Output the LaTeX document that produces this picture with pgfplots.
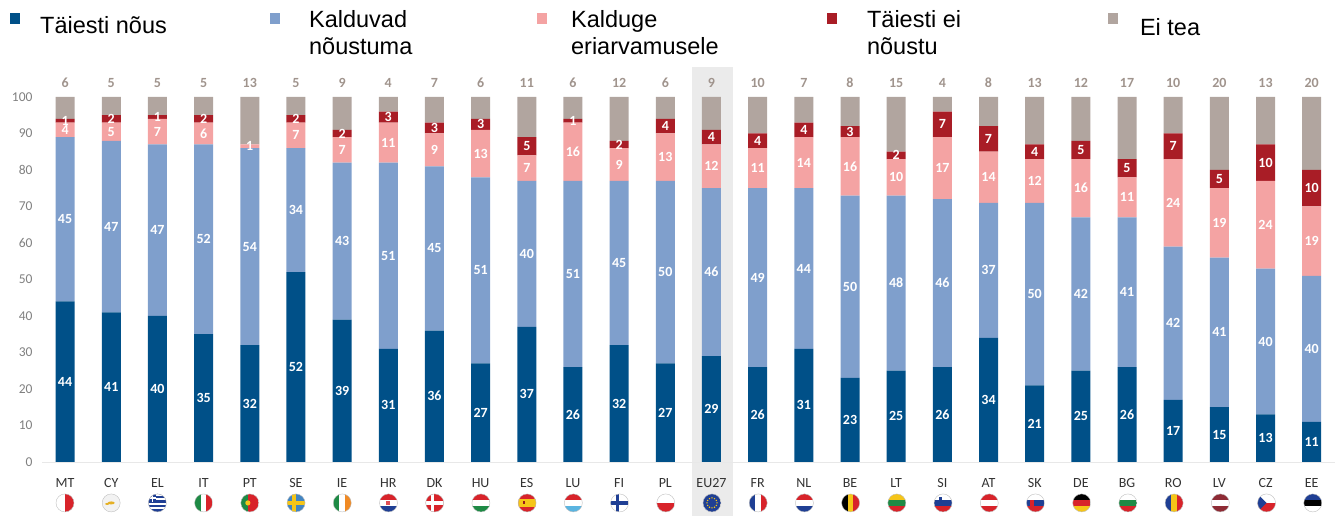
\documentclass[border=0pt]{standalone}
\usepackage{fontspec}
\setmainfont{Carlito}
\newfontfamily\legfont{Liberation Sans}
\usepackage{pgfplots}
\usepackage{pgfplotstable}
\pgfplotsset{compat=1.18}
\definecolor{cA}{HTML}{005088}
\definecolor{cB}{HTML}{7F9FCC}
\definecolor{cC}{HTML}{F4A3A3}
\definecolor{cD}{HTML}{A91D26}
\definecolor{cE}{HTML}{B1A59F}
\definecolor{tickg}{HTML}{808080}
\definecolor{topg}{HTML}{A0948D}
\pgfplotstableread{
i name a b c d e
0 MT 44 45 4 1 6
1 CY 41 47 5 2 5
2 EL 40 47 7 1 5
3 IT 35 52 6 2 5
4 PT 32 54 1 0 13
5 SE 52 34 7 2 5
6 IE 39 43 7 2 9
7 HR 31 51 11 3 4
8 DK 36 45 9 3 7
9 HU 27 51 13 3 6
10 ES 37 40 7 5 11
11 LU 26 51 16 1 6
12 FI 32 45 9 2 12
13 PL 27 50 13 4 6
14 EU27 29 46 12 4 9
15 FR 26 49 11 4 10
16 NL 31 44 14 4 7
17 BE 23 50 16 3 8
18 LT 25 48 10 2 15
19 SI 26 46 17 7 4
20 AT 34 37 14 7 8
21 SK 21 50 12 4 13
22 DE 25 42 16 5 12
23 BG 26 41 11 5 17
24 RO 17 42 24 7 10
25 LV 15 41 19 5 20
26 CZ 13 40 24 10 13
27 EE 11 40 19 10 20
}\datatable
\pgfplotsset{base/.style={
  at={(42pt,54pt)}, anchor=south west, scale only axis,
  width=1293pt, height=365pt,
  xmin=-0.5, xmax=27.5, ymin=0, ymax=100, clip=false}}
\newcommand\hflag[3]{\fill[#1] (-9.5pt,2.83pt) rectangle (9.5pt,9.5pt);\fill[#2] (-9.5pt,-2.83pt) rectangle (9.5pt,2.83pt);\fill[#3] (-9.5pt,-9.5pt) rectangle (9.5pt,-2.83pt);}
\newcommand\vflag[3]{\fill[#1] (-9.5pt,-9.5pt) rectangle (-2.83pt,9.5pt);\fill[#2] (-2.83pt,-9.5pt) rectangle (2.83pt,9.5pt);\fill[#3] (2.83pt,-9.5pt) rectangle (9.5pt,9.5pt);}
\newcommand\crossflag[2]{\fill[#1] (-9.5pt,-9.5pt) rectangle (9.5pt,9.5pt);\fill[#2] (-4pt,-9.5pt) rectangle (-0.5pt,9.5pt);\fill[#2] (-9.5pt,-1.7pt) rectangle (9.5pt,1.7pt);}
\newcommand\fl[2]{\begin{scope}[shift={({(65+46.22*#1)*1pt},13pt)}]
  \begin{scope}\clip (0,0) circle (9pt); #2 \end{scope}
  \draw[black!25,line width=.4pt] (0,0) circle (9pt);\end{scope}}
\definecolor{fR}{HTML}{D8232A}\definecolor{fG}{HTML}{1E8A45}\definecolor{fB}{HTML}{1F3F94}
\definecolor{fY}{HTML}{F5C518}\definecolor{fO}{HTML}{F08A24}\definecolor{fL}{HTML}{5AB4E0}
\definecolor{fM}{HTML}{8E2B35}
\begin{document}
\begin{tikzpicture}[x=1pt,y=1pt]
\path (0,0) rectangle (1335,516);
\fill[black!8] (692,0) rectangle (733,449);
\begin{axis}[base,
  ybar stacked, bar width=19pt, bar shift=0pt,
  axis x line*=bottom, axis y line=none,
  axis line style={draw=black!9,-},
  xtick={0,...,27}, major tick length=0pt,
  xticklabels={MT,CY,EL,IT,PT,SE,IE,HR,DK,HU,ES,LU,FI,PL,EU27,FR,NL,BE,LT,SI,AT,SK,DE,BG,RO,LV,CZ,EE},
  xticklabel style={font=\fontsize{14}{16}\selectfont, text=black!80, yshift=-13pt},
]
\addplot[fill=cA,draw=none] table[x=i,y=a]{\datatable};
\addplot[fill=cB,draw=none] table[x=i,y=b]{\datatable};
\addplot[fill=cC,draw=none] table[x=i,y=c]{\datatable};
\addplot[fill=cD,draw=none] table[x=i,y=d]{\datatable};
\addplot[fill=cE,draw=none] table[x=i,y=e]{\datatable};
\end{axis}
\begin{axis}[base, axis x line=none, axis y line=left,
  axis line style={draw=none}, major tick length=0pt,
  ytick={0,10,...,100}, xtick=\empty,
  yticklabel style={font=\fontsize{13.5}{15}\selectfont, text=tickg, xshift=-6pt},
  /pgf/number format/assume math mode=true,
  nodes near coords={\ifnum\pgfplotspointmeta=0\relax\else\pgfplotspointmeta\fi},
  point meta=explicit symbolic,
  every node near coord/.append style={anchor=center, inner sep=0pt,
    font=\fontsize{14}{16}\selectfont\bfseries, text=white},
]
\addplot[only marks,mark=none] table[x=i,y expr=\thisrow{a}/2,meta=a]{\datatable};
\addplot[only marks,mark=none] table[x=i,y expr=\thisrow{a}+\thisrow{b}/2,meta=b]{\datatable};
\addplot[only marks,mark=none] table[x=i,y expr=\thisrow{a}+\thisrow{b}+\thisrow{c}/2,meta=c]{\datatable};
\addplot[only marks,mark=none] table[x=i,y expr=\thisrow{a}+\thisrow{b}+\thisrow{c}+\thisrow{d}/2,meta=d]{\datatable};
\addplot[only marks,mark=none,every node near coord/.append style={text=topg}] table[x=i,y expr=103.8,meta=e]{\datatable};
\end{axis}
% legend
\tikzset{leg/.style={anchor=west,align=left,inner sep=0pt,font=\legfont\fontsize{23.5}{27}\selectfont}}
\fill[cA] (10,492) rectangle (20,503);
\node[leg] at (40,491) {Täiesti nõus};
\fill[cB] (270,492) rectangle (280,503);
\node[leg] at (309,483.5) {Kalduvad\\nõustuma};
\fill[cC] (537,492) rectangle (547,503);
\node[leg] at (571,483.5) {Kalduge\\eriarvamusele};
\fill[cD] (827,492) rectangle (837,503);
\node[leg] at (867,483.5) {Täiesti ei\\nõustu};
\fill[cE] (1108,492) rectangle (1118,503);
\node[leg] at (1140,489) {Ei tea};
% flags
\fl{0}{\fill[white] (-9.5pt,-9.5pt) rectangle (0,9.5pt);\fill[fR] (0,-9.5pt) rectangle (9.5pt,9.5pt);}
\fl{1}{\fill[white!95!black] (-9.5pt,-9.5pt) rectangle (9.5pt,9.5pt);\fill[fY!70!brown] (-4pt,-1pt) ellipse (2pt and 1pt);\fill[fY!70!brown] (0,0) ellipse (3.5pt and 1.5pt);}
\fl{2}{\fill[fB] (-9.5pt,-9.5pt) rectangle (9.5pt,9.5pt);\foreach \q in {-6.5,-2,2.5,6.5}{\fill[white] (-9.5pt,\q pt) rectangle (9.5pt,\q pt+2pt);}\fill[fB] (-9.5pt,1pt) rectangle (-1pt,9.5pt);\fill[white] (-9.5pt,4pt) rectangle (-1pt,5.5pt);\fill[white] (-5.7pt,1pt) rectangle (-4.2pt,9.5pt);}
\fl{3}{\vflag{fG}{white}{fR}}
\fl{4}{\fill[fG] (-9.5pt,-9.5pt) rectangle (-2pt,9.5pt);\fill[fR] (-2pt,-9.5pt) rectangle (9.5pt,9.5pt);\fill[fY] (-2pt,0) circle (2.6pt);}
\fl{5}{\crossflag{fL!60!fB}{fY}}
\fl{6}{\vflag{fG}{white}{fO}}
\fl{7}{\hflag{fR}{white}{fB}\fill[fR!80!white] (-2pt,-2.5pt) rectangle (2pt,2pt);}
\fl{8}{\crossflag{fR}{white}}
\fl{9}{\hflag{fR}{white}{fG}}
\fl{10}{\fill[fR] (-9.5pt,-9.5pt) rectangle (9.5pt,9.5pt);\fill[fY] (-9.5pt,-4pt) rectangle (9.5pt,4pt);\fill[fR!70!black] (-4.5pt,-1.5pt) rectangle (-2pt,1.5pt);}
\fl{11}{\hflag{fR}{white}{fL}}
\fl{12}{\crossflag{white}{fB}}
\fl{13}{\fill[white] (-9.5pt,0) rectangle (9.5pt,9.5pt);\fill[fR] (-9.5pt,-9.5pt) rectangle (9.5pt,0);}
\fl{14}{\fill[fB] (-9.5pt,-9.5pt) rectangle (9.5pt,9.5pt);\foreach \q in {0,30,...,330}{\fill[fY] (\q:5pt) circle (.8pt);}}
\fl{15}{\vflag{fB}{white}{fR}}
\fl{16}{\hflag{fR}{white}{fB}}
\fl{17}{\vflag{black}{fY}{fR}}
\fl{18}{\hflag{fY}{fG}{fR}}
\fl{19}{\hflag{white}{fB}{fR}\fill[fB] (-4.5pt,2pt) rectangle (-1.5pt,6pt);}
\fl{20}{\hflag{fR}{white}{fR}}
\fl{21}{\hflag{white}{fB}{fR}\fill[fR] (-5pt,-3pt) rectangle (-1pt,3pt);}
\fl{22}{\hflag{black}{fR}{fY}}
\fl{23}{\hflag{white}{fG}{fR}}
\fl{24}{\vflag{fB}{fY}{fR}}
\fl{25}{\hflag{fM}{white}{fM}}
\fl{26}{\fill[white] (-9.5pt,0) rectangle (9.5pt,9.5pt);\fill[fR] (-9.5pt,-9.5pt) rectangle (9.5pt,0);\fill[fB] (-9.5pt,-9.5pt) -- (-9.5pt,9.5pt) -- (0,0) -- cycle;}
\fl{27}{\hflag{fB}{black}{white}}
\end{tikzpicture}
\end{document}
